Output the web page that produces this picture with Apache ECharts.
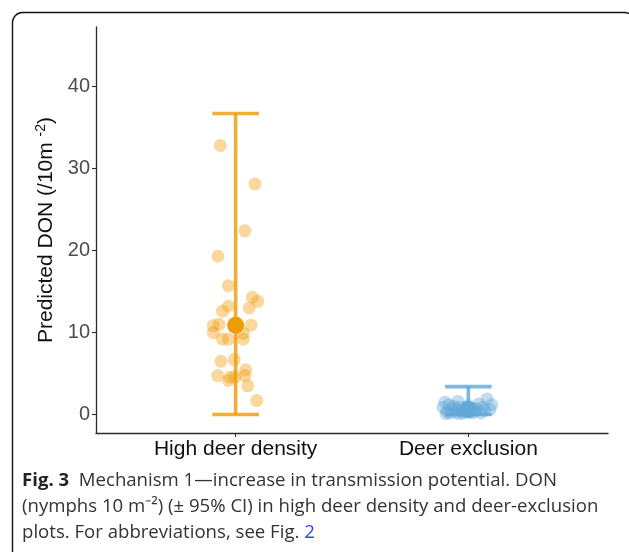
<!DOCTYPE html>
<html>
<head>
<meta charset="utf-8">
<script src="https://cdn.jsdelivr.net/npm/echarts@6/dist/echarts.min.js"></script>
<style>
html,body{margin:0;padding:0;background:#fff;}
#chart{width:629px;height:552px;}
</style>
</head>
<body>
<div id="chart"></div>
<script>
// ---- data ----
const categories = ["High deer density", "Deer exclusion"];
const categoryPositions = [1, 2];
const yTicks = [0, 10, 20, 30, 40];

const meanDON = [10.9, 0.6];
const ciLow = [0, 0];
const ciHigh = [36.7, 3.4];

// plot-level predicted values (jittered horizontally, as in the figure)
const highDensityValues = [32.8, 28.1, 22.4, 19.3, 15.7, 14.3, 13.8, 13.2, 13.0, 12.6, 10.85, 11.0, 10.0, 10.9, 9.2, 9.2, 9.2, 9.9, 6.7, 6.5, 4.75, 5.45, 4.15, 4.6, 4.75, 3.5, 1.7, 4.55];
const highDensityJitter = [-0.066, 0.083, 0.040, -0.076, -0.031, 0.072, 0.095, -0.031, 0.058, -0.057, -0.096, -0.071, -0.096, 0.066, -0.057, -0.031, 0.033, 0.033, -0.006, -0.063, -0.077, 0.043, -0.031, -0.002, 0.040, 0.052, 0.091, -0.024];
const exclusionValues = [0.9, 1.5, 0.4, 1.2, 0.2, 0.7, 1.0, 0.3, 0.6, 0.1, 0.9, 0.4, 0.2, 0.7, 0.3, 1.1, 0.5, 0.2, 0.8, 0.4, 0.6, 1.3, 0.2, 0.9, 0.5, 1.9, 0.6, 1.2, 0.1, 1.6];
const exclusionJitter = [-0.109, -0.101, -0.092, -0.083, -0.079, -0.070, -0.062, -0.058, -0.049, -0.040, -0.036, -0.028, -0.023, -0.015, -0.006, -0.002, 0.007, 0.015, 0.024, 0.028, 0.037, 0.046, 0.054, 0.063, 0.071, 0.080, 0.093, 0.101, -0.096, -0.045];

// ---- styling ----
const colors = ["#EF9B0A", "#62A8D6"];
const capHalf = 0.1;

const chart = echarts.init(document.getElementById('chart'), null, {renderer: 'canvas'});

function jitterData(pos, jit, vals) {
  return vals.map((v, i) => [pos + jit[i], v]);
}

const option = {
  animation: false,
  backgroundColor: '#fff',
  grid: {left: 96, right: 21, top: 27, bottom: 119, containLabel: false},
  xAxis: {
    type: 'value', min: 0.4, max: 2.6,
    axisLine: {show: true, onZero: false, lineStyle: {color: '#2b2b2b', width: 1.3}},
    axisTick: {show: true, customValues: categoryPositions, length: 4, lineStyle: {color: '#2b2b2b', width: 1.1}},
    axisLabel: {
      customValues: categoryPositions,
      formatter: v => categories[Math.round(v) - 1] || '',
      color: '#111', fontSize: 21, fontFamily: 'Liberation Sans, Arial, sans-serif', margin: 6
    },
    splitLine: {show: false}
  },
  yAxis: {
    type: 'value', min: -2.25, max: 47.25,
    name: '{a|Predicted DON (/10m }{s|-2}{a|)}',
    nameLocation: 'middle', nameGap: 33, nameRotate: 90,
    nameTextStyle: {
      rich: {
        a: {fontSize: 21, fontFamily: 'Liberation Sans, Arial, sans-serif', color: '#111', verticalAlign: 'bottom'},
        s: {fontSize: 14, fontFamily: 'Liberation Sans, Arial, sans-serif', color: '#111', verticalAlign: 'bottom', padding: [0, 0, 9, 0]}
      }
    },
    axisLine: {show: true, lineStyle: {color: '#2b2b2b', width: 1.3}},
    axisTick: {show: true, customValues: yTicks, length: 4, lineStyle: {color: '#2b2b2b', width: 1.1}},
    axisLabel: {customValues: yTicks, color: '#4d4d4d', fontSize: 20, fontFamily: 'Liberation Sans, Arial, sans-serif', margin: 6},
    splitLine: {show: false}
  },
  series: [
    {
      type: 'custom',
      name: 'CI',
      data: categoryPositions.map((p, i) => [p, ciLow[i], ciHigh[i], i]),
      renderItem: function (params, api) {
        const x = api.value(0), lo = api.value(1), hi = api.value(2), idx = api.value(3);
        const pLo = api.coord([x, lo]);
        const pHi = api.coord([x, hi]);
        const xl = api.coord([x - capHalf, hi])[0];
        const xr = api.coord([x + capHalf, hi])[0];
        const st = {stroke: colors[idx], lineWidth: 3.6, opacity: 0.82};
        return {
          type: 'group',
          children: [
            {type: 'line', shape: {x1: pLo[0], y1: pLo[1], x2: pHi[0], y2: pHi[1]}, style: st},
            {type: 'line', shape: {x1: xl, y1: pHi[1], x2: xr, y2: pHi[1]}, style: st},
            {type: 'line', shape: {x1: xl, y1: pLo[1], x2: xr, y2: pLo[1]}, style: st}
          ]
        };
      },
      z: 2
    },
    {
      type: 'scatter', name: categories[0],
      data: jitterData(categoryPositions[0], highDensityJitter, highDensityValues),
      symbolSize: 13, itemStyle: {color: colors[0], opacity: 0.4}, z: 3
    },
    {
      type: 'scatter', name: categories[1],
      data: jitterData(categoryPositions[1], exclusionJitter, exclusionValues),
      symbolSize: 13, itemStyle: {color: colors[1], opacity: 0.4}, z: 3
    },
    {
      type: 'scatter', name: 'Mean',
      data: categoryPositions.map((p, i) => ({value: [p, meanDON[i]], itemStyle: {color: colors[i], opacity: 1}})),
      symbolSize: 17, z: 4
    }
  ],
  graphic: [
    {
      type: 'rect', left: 10, top: 10, z: 0, silent: true,
      shape: {x: 0, y: 0, width: 622, height: 600, r: 10},
      style: {fill: 'none', stroke: '#111', lineWidth: 1.4}
    },
    {
      type: 'text', left: 22, top: 471, z: 10,
      style: {
        text: '{b|Fig. 3}{t|  Mechanism 1—increase in transmission potential. DON}\n{t|(nymphs 10 m⁻²) (± 95% CI) in high deer density and deer-exclusion}\n{t|plots. For abbreviations, see Fig. }{l|2}',
        rich: {
          b: {fontSize: 18.6, fontWeight: 'bold', fontFamily: 'Open Sans, sans-serif', fill: '#222', lineHeight: 26},
          t: {fontSize: 18.6, fontFamily: 'Open Sans, sans-serif', fill: '#333', lineHeight: 26},
          l: {fontSize: 18.6, fontFamily: 'Open Sans, sans-serif', fill: '#2a4bd7', lineHeight: 26}
        }
      }
    }
  ]
};
chart.setOption(option);
</script>
</body>
</html>
